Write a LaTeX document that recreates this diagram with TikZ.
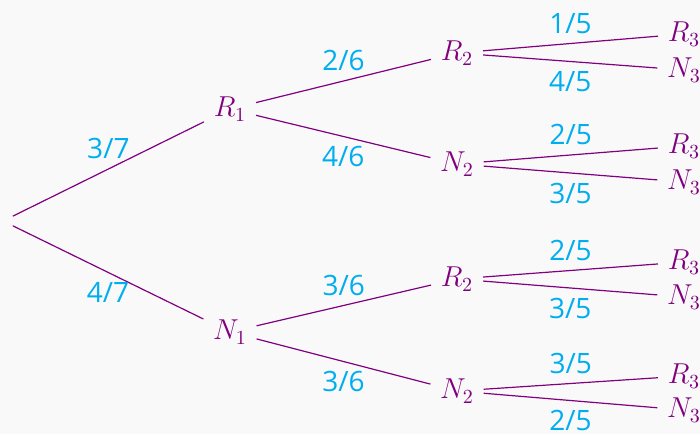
\documentclass[tikz,border=0pt]{standalone}
\usepackage{fontspec}
\setmainfont{Open Sans}
\usetikzlibrary{positioning}
\definecolor{treePurple}{RGB}{128,0,128}
\definecolor{probBlue}{RGB}{0,174,239}
\definecolor{bgGray}{RGB}{249,249,249}

\begin{document}
\begin{tikzpicture}[
    x=0.5pt, y=-0.5pt,
    every node/.style={font=\fontsize{14}{16}\selectfont},
    event/.style={text=treePurple, inner sep=4.7pt, font=\fontsize{14.5}{16}\selectfont},
    branch/.style={draw=treePurple, line width=0.6pt},
    prob/.style={text=probBlue, midway, inner sep=4.6pt}
]

% Background and page size
\fill[bgGray] (0,0) rectangle (700,434);
\useasboundingbox (0,0) rectangle (700,434);

% First draw
\node[event] (root) at (3,221) {};
\node[event] (R1) at (230,109) {$R_1$};
\node[event] (N1) at (230,332) {$N_1$};

% Second draw
\node[event] (R2a) at (457,53) {$R_2$};
\node[event] (N2a) at (457,164) {$N_2$};
\node[event] (R2b) at (457,279) {$R_2$};
\node[event] (N2b) at (457,391) {$N_2$};

% Third draw
\node[event] (R3a) at (684,34) {$R_3$};
\node[event] (N3a) at (684,70) {$N_3$};
\node[event] (R3b) at (684,146) {$R_3$};
\node[event] (N3b) at (684,182) {$N_3$};
\node[event] (R3c) at (684,262) {$R_3$};
\node[event] (N3c) at (684,297) {$N_3$};
\node[event] (R3d) at (684,376) {$R_3$};
\node[event] (N3d) at (684,410) {$N_3$};

% Branches - first level
\draw[branch] (root) -- node[prob, above] {3/7} (R1);
\draw[branch] (root) -- node[prob, below] {4/7} (N1);

% Branches - second level
\draw[branch] (R1) -- node[prob, above] {2/6} (R2a);
\draw[branch] (R1) -- node[prob, below] {4/6} (N2a);
\draw[branch] (N1) -- node[prob, above] {3/6} (R2b);
\draw[branch] (N1) -- node[prob, below] {3/6} (N2b);

% Branches - third level
\draw[branch] (R2a) -- node[prob, above] {1/5} (R3a);
\draw[branch] (R2a) -- node[prob, below] {4/5} (N3a);
\draw[branch] (N2a) -- node[prob, above] {2/5} (R3b);
\draw[branch] (N2a) -- node[prob, below] {3/5} (N3b);
\draw[branch] (R2b) -- node[prob, above] {2/5} (R3c);
\draw[branch] (R2b) -- node[prob, below] {3/5} (N3c);
\draw[branch] (N2b) -- node[prob, above] {3/5} (R3d);
\draw[branch] (N2b) -- node[prob, below] {2/5} (N3d);

\end{tikzpicture}
\end{document}
